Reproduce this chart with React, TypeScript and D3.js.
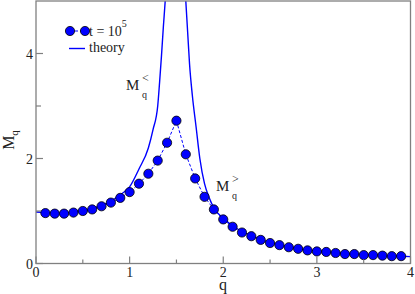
import React from 'react';
import * as d3 from 'd3';

// simulation points, t = 1e5
const qSim = [0.1, 0.2, 0.3, 0.4, 0.5, 0.6, 0.7, 0.8, 0.9, 1.0, 1.1, 1.2, 1.3, 1.4, 1.5, 1.6, 1.7, 1.8, 1.9, 2.0,
  2.1, 2.2, 2.3, 2.4, 2.5, 2.6, 2.7, 2.8, 2.9, 3.0, 3.1, 3.2, 3.3, 3.4, 3.5, 3.6, 3.7, 3.8, 3.9];
const mSim = [0.96, 0.95, 0.95, 0.97, 1.0, 1.03, 1.09, 1.16, 1.25, 1.36, 1.52, 1.71, 1.96, 2.3, 2.72, 2.08, 1.62, 1.27, 1.03, 0.84,
  0.7, 0.59, 0.52, 0.45, 0.39, 0.35, 0.31, 0.28, 0.25, 0.23, 0.22, 0.2, 0.18, 0.18, 0.16, 0.16, 0.15, 0.14, 0.14];

// theory, left branch (M_q^<)
const qLeft = [0, 0.1, 0.2, 0.3, 0.4, 0.5, 0.6, 0.7, 0.8, 0.9, 1.0, 1.1, 1.2, 1.25, 1.3, 1.32, 1.34, 1.36, 1.38, 1.4];
const mLeft = [0.98, 0.97, 0.96, 0.96, 0.98, 1.01, 1.05, 1.11, 1.19, 1.31, 1.46, 1.8, 2.2, 2.55, 3.0, 3.45, 3.95, 4.5, 5.0, 5.6];

// theory, right branch (M_q^>)
const qRight = [1.58, 1.6, 1.62, 1.64, 1.67, 1.71, 1.75, 1.8, 1.85, 1.9, 2.0, 2.1, 2.2, 2.3, 2.4, 2.5, 2.6, 2.7, 2.8, 2.9,
  3.0, 3.2, 3.4, 3.6, 3.8, 4.0];
const mRight = [5.6, 5.0, 4.4, 3.8, 3.2, 2.6, 2.0, 1.52, 1.25, 1.06, 0.86, 0.72, 0.61, 0.53, 0.46, 0.4, 0.36, 0.32, 0.29, 0.26,
  0.24, 0.21, 0.18, 0.16, 0.145, 0.13];

const xMajor = [0, 1, 2, 3, 4];
const xMinor = [0.5, 1.5, 2.5, 3.5];
const yMajor = [0, 2, 4];
const yMinor = [1, 3];

const W = 415;
const H = 294;
const blue = '#0000ff';
const frame = '#808080';
const ink = '#222';
const font = 'Liberation Serif';

export default function App() {
  const x = d3.scaleLinear().domain([0, 4]).range([36, 410.5]);
  const y = d3.scaleLinear().domain([0, 5]).range([263.5, 1]);

  const line = d3.line<[number, number]>()
    .x(d => x(d[0]))
    .y(d => y(d[1]))
    .curve(d3.curveMonotoneX);

  const simPts: [number, number][] = qSim.map((q, i) => [q, mSim[i]]);
  const leftPts: [number, number][] = qLeft.map((q, i) => [q, mLeft[i]]);
  const rightPts: [number, number][] = qRight.map((q, i) => [q, mRight[i]]);
  const simLine = d3.line<[number, number]>().x(d => x(d[0])).y(d => y(d[1]));

  const [x0, x1] = x.range();
  const [y0, y1] = y.range();

  return (
    <svg width={W} height={H} style={{ position: 'absolute', left: 0, top: 0, background: '#fff' }}
      fontFamily={font}>
      <defs>
        <clipPath id="plot">
          <rect x={x0} y={y1} width={x1 - x0} height={y0 - y1} />
        </clipPath>
      </defs>

      <g clipPath="url(#plot)">
        <path d={line(leftPts) || ''} fill="none" stroke={blue} strokeWidth={1.4} />
        <path d={line(rightPts) || ''} fill="none" stroke={blue} strokeWidth={1.4} />
      </g>
      <path d={simLine(simPts) || ''} fill="none" stroke={blue} strokeWidth={1} strokeDasharray="3,2" />
      {simPts.map((d, i) => (
        <circle key={i} cx={x(d[0])} cy={y(d[1])} r={4.6} fill={blue} stroke="#000" strokeWidth={0.8} />
      ))}

      {/* frame */}
      <rect x={x0} y={y1} width={x1 - x0} height={y0 - y1} fill="none" stroke={frame} strokeWidth={1.3} />

      {/* ticks */}
      {xMajor.map(v => (
        <g key={'xm' + v}>
          <line x1={x(v)} x2={x(v)} y1={y0} y2={y0 - 7} stroke={frame} strokeWidth={1.2} />
          <text x={x(v)} y={y0 + 13} textAnchor="middle" fontSize={14} fill={ink} fontFamily={font}>{v}</text>
        </g>
      ))}
      {xMinor.map(v => (
        <line key={'xn' + v} x1={x(v)} x2={x(v)} y1={y0} y2={y0 - 4} stroke={frame} strokeWidth={1.2} />
      ))}
      {yMajor.map(v => (
        <g key={'ym' + v}>
          <line x1={x0} x2={x0 + 7} y1={y(v)} y2={y(v)} stroke={frame} strokeWidth={1.2} />
          <text x={x0 - 3} y={y(v) + 5} textAnchor="end" fontSize={14} fill={ink} fontFamily={font}>{v}</text>
        </g>
      ))}
      {yMinor.map(v => (
        <line key={'yn' + v} x1={x0} x2={x0 + 5} y1={y(v)} y2={y(v)} stroke={frame} strokeWidth={1.2} />
      ))}

      {/* axis titles */}
      <text x={223} y={290} textAnchor="middle" fontSize={16} fill={ink} fontFamily={font}>q</text>
      <g transform="translate(14,140) rotate(-90)">
        <text x={0} y={0} fontSize={16} fill={ink} textAnchor="middle" fontFamily={font}>
          M<tspan fontSize={11} dy={4}>q</tspan>
        </text>
      </g>

      {/* legend */}
      <line x1={70} x2={85} y1={31} y2={31} stroke={blue} strokeWidth={1} strokeDasharray="3,2" />
      <circle cx={70} cy={31} r={4.6} fill={blue} stroke="#000" strokeWidth={0.8} />
      <circle cx={85} cy={31} r={4.6} fill={blue} stroke="#000" strokeWidth={0.8} />
      <text x={89} y={36} fontSize={14} fill={ink} fontFamily={font}>
        t = 10<tspan fontSize={10} dy={-9}>5</tspan>
      </text>
      <line x1={69} x2={85} y1={48.5} y2={48.5} stroke={blue} strokeWidth={1.4} />
      <text x={89} y={52} fontSize={14} fill={ink} fontFamily={font}>theory</text>

      {/* branch labels */}
      <text x={126} y={90} fontSize={15} fill={ink} fontFamily={font}>M</text>
      <text x={142} y={98} fontSize={10} fill={ink} fontFamily={font}>q</text>
      <text x={142} y={82} fontSize={12} fill={ink} fontFamily={font}>&lt;</text>
      <text x={216} y={191} fontSize={15} fill={ink} fontFamily={font}>M</text>
      <text x={232} y={199} fontSize={10} fill={ink} fontFamily={font}>q</text>
      <text x={232} y={183} fontSize={12} fill={ink} fontFamily={font}>&gt;</text>
    </svg>
  );
}
